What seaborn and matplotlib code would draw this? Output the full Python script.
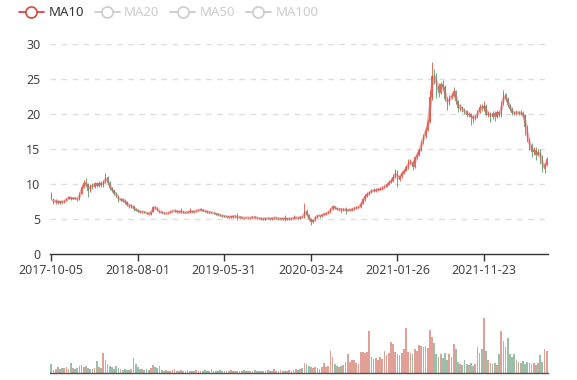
import numpy as np
import pandas as pd
import matplotlib
matplotlib.use('Agg')
import matplotlib.pyplot as plt
from matplotlib.lines import Line2D
import seaborn as sns

# weekly candles (5 trading days each)
close = [7.9,7.4,7.6,7.3,7.5,7.4,7.6,7.9,8.1,7.9,
         8.0,7.9,7.8,8.6,9.6,10.2,10.0,9.0,9.8,9.6,
         10.1,9.7,10.2,9.8,10.3,11.0,10.2,9.4,9.1,8.6,
         8.3,7.7,7.8,7.6,7.4,7.0,6.8,6.9,6.4,6.3,
         6.1,6.0,6.0,5.9,5.8,5.7,6.0,6.7,6.6,6.2,
         6.0,5.9,5.8,5.8,5.9,6.1,6.1,6.2,6.0,6.0,
         6.1,5.9,5.9,6.0,6.1,6.0,6.1,6.2,6.3,6.3,
         6.2,6.1,6.0,5.9,5.9,5.8,5.7,5.6,5.5,5.4,
         5.35,5.3,5.3,5.3,5.4,5.3,5.3,5.2,5.2,5.1,
         5.2,5.1,5.2,5.3,5.2,5.1,5.1,5.0,5.0,5.1,
         5.1,5.0,5.1,5.2,5.1,5.0,5.0,5.1,5.0,5.0,
         5.1,5.0,5.2,5.2,5.1,5.3,5.2,6.2,5.6,5.0,
         4.6,4.8,5.3,5.5,5.4,5.6,5.7,5.8,6.0,6.4,
         6.8,6.5,6.4,6.4,6.3,6.4,6.2,6.3,6.3,6.4,
         6.6,6.6,6.7,7.2,7.8,8.3,8.6,8.8,9.1,9.0,
         9.2,9.2,9.3,9.5,9.6,9.9,10.3,10.4,11.0,11.8,
         10.6,11.1,11.6,11.9,12.4,13.1,13.2,12.4,13.8,14.2,
         14.9,16.0,16.9,17.7,18.9,22.5,25.5,25.3,24.0,23.0,
         24.3,23.8,22.2,21.5,22.4,22.6,23.3,21.8,20.8,21.0,
         20.5,20.4,19.9,20.0,19.5,19.4,19.6,20.3,21.0,20.8,
         21.2,19.9,20.1,19.5,20.2,19.6,20.3,19.8,21.5,22.8,
         22.2,21.3,20.7,20.2,20.0,20.3,20.1,20.2,19.8,18.2,
         16.3,15.6,14.6,14.9,14.2,14.6,13.9,12.2,12.7,13.6]

open_ = [8.6,7.9,7.4,7.6,7.3,7.5,7.4,7.6,7.9,8.1,
         7.9,8.0,7.9,7.8,8.6,9.6,10.2,10.0,9.0,9.8,
         9.6,10.1,9.7,10.2,9.8,10.3,11.0,10.2,9.4,9.1,
         8.6,8.3,7.7,7.8,7.6,7.4,7.0,6.8,6.9,6.4,
         6.3,6.1,6.0,6.0,5.9,5.8,5.7,6.0,6.7,6.6,
         6.2,6.0,5.9,5.8,5.8,5.9,6.1,6.1,6.2,6.0,
         6.0,6.1,5.9,5.9,6.0,6.1,6.0,6.1,6.2,6.3,
         6.3,6.2,6.1,6.0,5.9,5.9,5.8,5.7,5.6,5.5,
         5.4,5.35,5.3,5.3,5.3,5.4,5.3,5.3,5.2,5.2,
         5.1,5.2,5.1,5.2,5.3,5.2,5.1,5.1,5.0,5.0,
         5.1,5.1,5.0,5.1,5.2,5.1,5.0,5.0,5.1,5.0,
         5.0,5.1,5.0,5.2,5.2,5.1,5.3,5.2,6.2,5.6,
         5.0,4.6,4.8,5.3,5.5,5.4,5.6,5.7,5.8,6.0,
         6.4,6.8,6.5,6.4,6.4,6.3,6.4,6.2,6.3,6.3,
         6.4,6.6,6.6,6.7,7.2,7.8,8.3,8.6,8.8,9.1,
         9.0,9.2,9.2,9.3,9.5,9.6,9.9,10.3,10.4,11.0,
         11.8,10.6,11.1,11.6,11.9,12.4,13.1,13.2,12.4,13.8,
         14.2,14.9,16.0,16.9,17.7,18.9,22.5,25.5,25.3,24.0,
         23.0,24.3,23.8,22.2,21.5,22.4,22.6,23.3,21.8,20.8,
         21.0,20.5,20.4,19.9,20.0,19.5,19.4,19.6,20.3,21.0,
         20.8,21.2,19.9,20.1,19.5,20.2,19.6,20.3,19.8,21.5,
         22.8,22.2,21.3,20.7,20.2,20.0,20.3,20.1,20.2,19.8,
         18.2,16.3,15.6,14.6,14.9,14.2,14.6,13.9,12.2,12.7]

high = [8.8,8.0,7.8,7.7,7.6,7.6,7.7,8.0,8.3,8.2,
        8.2,8.1,8.0,8.8,9.9,10.5,10.9,10.2,10.0,10.1,
        10.3,10.3,10.4,10.4,10.6,11.6,11.2,10.4,9.6,9.2,
        8.8,8.4,8.0,8.0,7.8,7.6,7.2,7.1,7.0,6.6,
        6.4,6.2,6.2,6.1,6.0,5.9,6.1,6.9,6.8,6.7,
        6.3,6.1,6.0,5.9,6.0,6.2,6.3,6.4,6.3,6.1,
        6.6,6.2,6.0,6.1,6.5,6.2,6.2,6.3,6.4,6.5,
        6.4,6.3,6.2,6.1,6.0,6.0,5.9,5.8,5.7,5.6,
        5.5,5.4,5.4,5.4,5.5,5.5,5.9,5.4,5.3,5.3,
        5.3,5.3,5.3,5.4,5.4,5.3,5.2,5.2,5.1,5.2,
        5.2,5.2,5.2,5.3,5.3,5.2,5.1,5.2,5.6,5.1,
        5.2,5.2,5.6,5.3,5.3,5.4,5.4,7.3,6.4,5.7,
        5.1,4.9,5.4,5.6,5.6,5.7,5.8,5.9,6.1,6.6,
        7.0,6.9,6.6,6.5,6.6,6.5,6.7,6.4,6.4,6.6,
        6.7,6.8,6.9,7.4,8.0,8.5,8.8,9.0,9.3,9.4,
        9.4,9.4,9.5,9.7,9.8,10.1,10.6,10.8,11.4,12.1,
        12.0,11.3,11.8,12.2,12.7,13.5,13.6,13.4,14.0,14.5,
        15.2,16.3,17.2,18.1,19.3,23.5,27.5,26.5,25.8,24.5,
        24.6,24.8,24.1,22.5,22.7,23.0,23.8,23.5,22.0,21.4,
        21.2,20.8,20.6,20.3,20.2,19.8,19.9,20.6,21.4,21.5,
        21.9,21.4,20.4,20.3,20.5,20.5,20.6,20.5,21.8,23.4,
        23.0,22.4,21.5,21.0,20.5,20.6,20.5,20.6,20.4,20.0,
        18.4,16.6,15.9,15.3,15.3,15.0,15.0,14.1,13.0,13.9]

low = [7.7,7.2,7.2,7.1,7.2,7.2,7.3,7.5,7.8,7.7,
       7.8,7.8,7.6,7.7,8.5,9.4,9.7,8.2,8.9,9.3,
       9.4,9.5,9.5,9.6,9.6,10.1,10.0,9.2,8.9,8.4,
       8.1,7.4,7.5,7.4,7.2,6.8,6.6,6.6,6.2,6.1,
       6.0,5.9,5.9,5.8,5.7,5.6,5.6,6.0,6.4,6.1,
       5.9,5.8,5.7,5.7,5.7,5.8,6.0,6.0,5.9,5.9,
       5.9,5.8,5.8,5.8,5.9,5.9,5.9,6.0,6.1,6.2,
       6.1,6.0,5.9,5.8,5.8,5.7,5.6,5.5,5.4,5.3,
       5.3,5.2,5.2,5.2,5.2,5.2,4.8,5.1,5.1,5.0,
       5.1,5.0,5.0,5.1,5.1,5.0,5.0,4.9,4.9,4.9,
       5.0,4.9,4.9,5.0,5.0,4.9,4.9,4.9,4.7,4.9,
       4.9,4.9,5.0,5.1,5.0,5.0,5.1,5.1,5.4,4.9,
       4.1,4.4,4.7,5.2,5.2,5.3,5.5,5.6,5.7,5.9,
       6.3,6.4,6.3,6.2,5.9,6.2,5.7,6.1,6.2,6.2,
       6.3,6.4,6.5,6.6,7.1,7.6,8.1,8.4,8.7,8.8,
       8.9,9.0,9.1,9.2,9.4,9.5,9.8,10.1,10.3,10.9,
       9.6,10.4,10.9,11.4,11.8,12.2,12.9,12.0,12.3,13.6,
       14.0,14.7,15.7,16.6,17.5,18.7,22.0,24.3,22.3,22.5,
       22.8,23.4,21.9,20.6,21.3,22.1,22.4,21.4,20.3,20.5,
       20.3,20.0,19.6,19.6,18.4,18.7,19.1,19.4,20.1,20.5,
       20.5,19.7,19.5,18.8,19.3,19.0,19.4,19.5,19.6,21.3,
       21.9,21.0,20.4,19.9,19.8,19.8,19.9,19.9,19.5,17.0,
       16.0,14.9,13.9,14.2,13.4,14.0,12.8,11.7,11.6,12.5]

volume = [8,2,3,5,3,4,4,5,3,9,
          4,3,4,6,7,5,6,4,3,3,
          4,11,5,4,18,12,8,6,5,3,
          6,4,3,2,3,2,2,3,14,8,
          5,3,3,2,3,2,4,7,5,4,
          6,2,1,2,1,1,2,3,1,1,
          2,1,1,2,1,1,1,2,1,1,
          1,2,1,1,3,1,1,1,2,1,
          1,1,1,2,1,1,1,1,1,2,
          1,1,1,1,2,1,1,1,1,1,
          2,1,1,3,1,1,2,1,1,1,
          2,1,2,3,2,3,4,9,8,6,
          5,4,5,4,3,5,9,5,6,20,
          15,8,6,5,6,7,10,17,10,12,
          12,9,8,19,19,18,19,39,15,13,
          14,12,15,13,20,16,18,29,27,19,
          17,16,18,22,42,19,18,17,22,20,
          26,25,24,25,23,40,33,28,17,15,
          17,14,18,12,17,15,27,22,10,8,
          7,12,8,7,9,6,8,24,18,22,
          51,20,12,9,8,9,7,17,39,30,
          24,32,17,15,17,12,10,9,11,8,
          10,9,8,9,7,9,16,10,22,20]

tick_labels = ['2017-10-05', '2018-08-01', '2019-05-31', '2020-03-24', '2021-01-26', '2021-11-23']
legend_names = ['MA10', 'MA20', 'MA50', 'MA100']

UP = '#e0523d'
DOWN = '#4f9e6c'
AXIS = '#333333'
LABEL = '#444444'

df = pd.DataFrame({'open': open_, 'close': close, 'high': high, 'low': low, 'volume': volume})
df['idx'] = np.arange(len(df))
df['dir'] = np.where(df['close'] >= df['open'], 'up', 'down')
df['ma10'] = df['close'].rolling(2).mean()  # 2 weekly bars = 10 trading days

sns.set_theme(style='white')
plt.rcParams['font.family'] = ['Noto Sans', 'DejaVu Sans']

fig = plt.figure(figsize=(5.77, 3.80), dpi=100)
ax = fig.add_axes([0.0867, 0.3316, 0.863, 0.5526])
axv = fig.add_axes([0.0867, 0.0197, 0.863, 0.16])

# candles
cols = np.where(df['dir'] == 'up', UP, DOWN)
ax.vlines(df['idx'], df['low'], df['high'], colors=cols, lw=0.7, alpha=0.85, zorder=2)
body = (df['close'] - df['open']).abs().clip(lower=0.08)
ax.bar(df['idx'], body, bottom=df[['open', 'close']].min(axis=1), width=0.6,
       color=cols, alpha=0.85, linewidth=0, zorder=2)

# MA10
sns.lineplot(data=df, x='idx', y='ma10', ax=ax, color='#e06666', alpha=0.55, lw=2, zorder=3)

ax.set_xlim(-0.6, len(df) - 0.4)
ax.set_ylim(0, 30)
ax.set_yticks(range(0, 31, 5))
ax.set_xticks(np.arange(len(tick_labels)) * 40)
ax.set_xticklabels(tick_labels)
ax.set_xlabel('')
ax.set_ylabel('')
for y in range(5, 31, 5):
    ax.axhline(y, color='#dddddd', lw=1, ls=(0, (4, 4)), zorder=0)
for s in ['top', 'right', 'left']:
    ax.spines[s].set_visible(False)
ax.spines['bottom'].set_color(AXIS)
ax.spines['bottom'].set_linewidth(1)
ax.tick_params(axis='x', colors=AXIS, labelcolor=LABEL, labelsize=9, length=5, width=1,
               direction='out', bottom=True, pad=2)
ax.tick_params(axis='y', labelcolor=LABEL, labelsize=9, length=0, pad=7)

# volume
sns.barplot(data=df, x='idx', y='volume', hue='dir', palette={'up': UP, 'down': DOWN},
            native_scale=True, dodge=False, width=0.8, alpha=0.6, linewidth=0,
            legend=False, ax=axv)
axv.set_xlim(-0.6, len(df) - 0.4)
axv.set_ylim(0, 57)
axv.set_xticks([])
axv.set_yticks([])
axv.set_xlabel('')
axv.set_ylabel('')
for s in ['top', 'right', 'left']:
    axv.spines[s].set_visible(False)
axv.spines['bottom'].set_color('#555555')
axv.spines['bottom'].set_linewidth(1)

# legend: only MA10 active
handles = []
for i, name in enumerate(legend_names):
    c = '#d9463c' if i == 0 else '#cccccc'
    handles.append(Line2D([], [], color=c, lw=1.3, marker='o', markersize=8,
                          markerfacecolor='white', markeredgecolor=c, markeredgewidth=1.2))
leg = fig.legend(handles, legend_names, loc='center left', bbox_to_anchor=(0.012, 0.966),
                 ncol=4, frameon=False, handlelength=1.9, handletextpad=0.35,
                 columnspacing=0.8, fontsize=9.5)
for i, t in enumerate(leg.get_texts()):
    t.set_color('#333333' if i == 0 else '#cccccc')

fig.savefig('out.png', dpi=100)
